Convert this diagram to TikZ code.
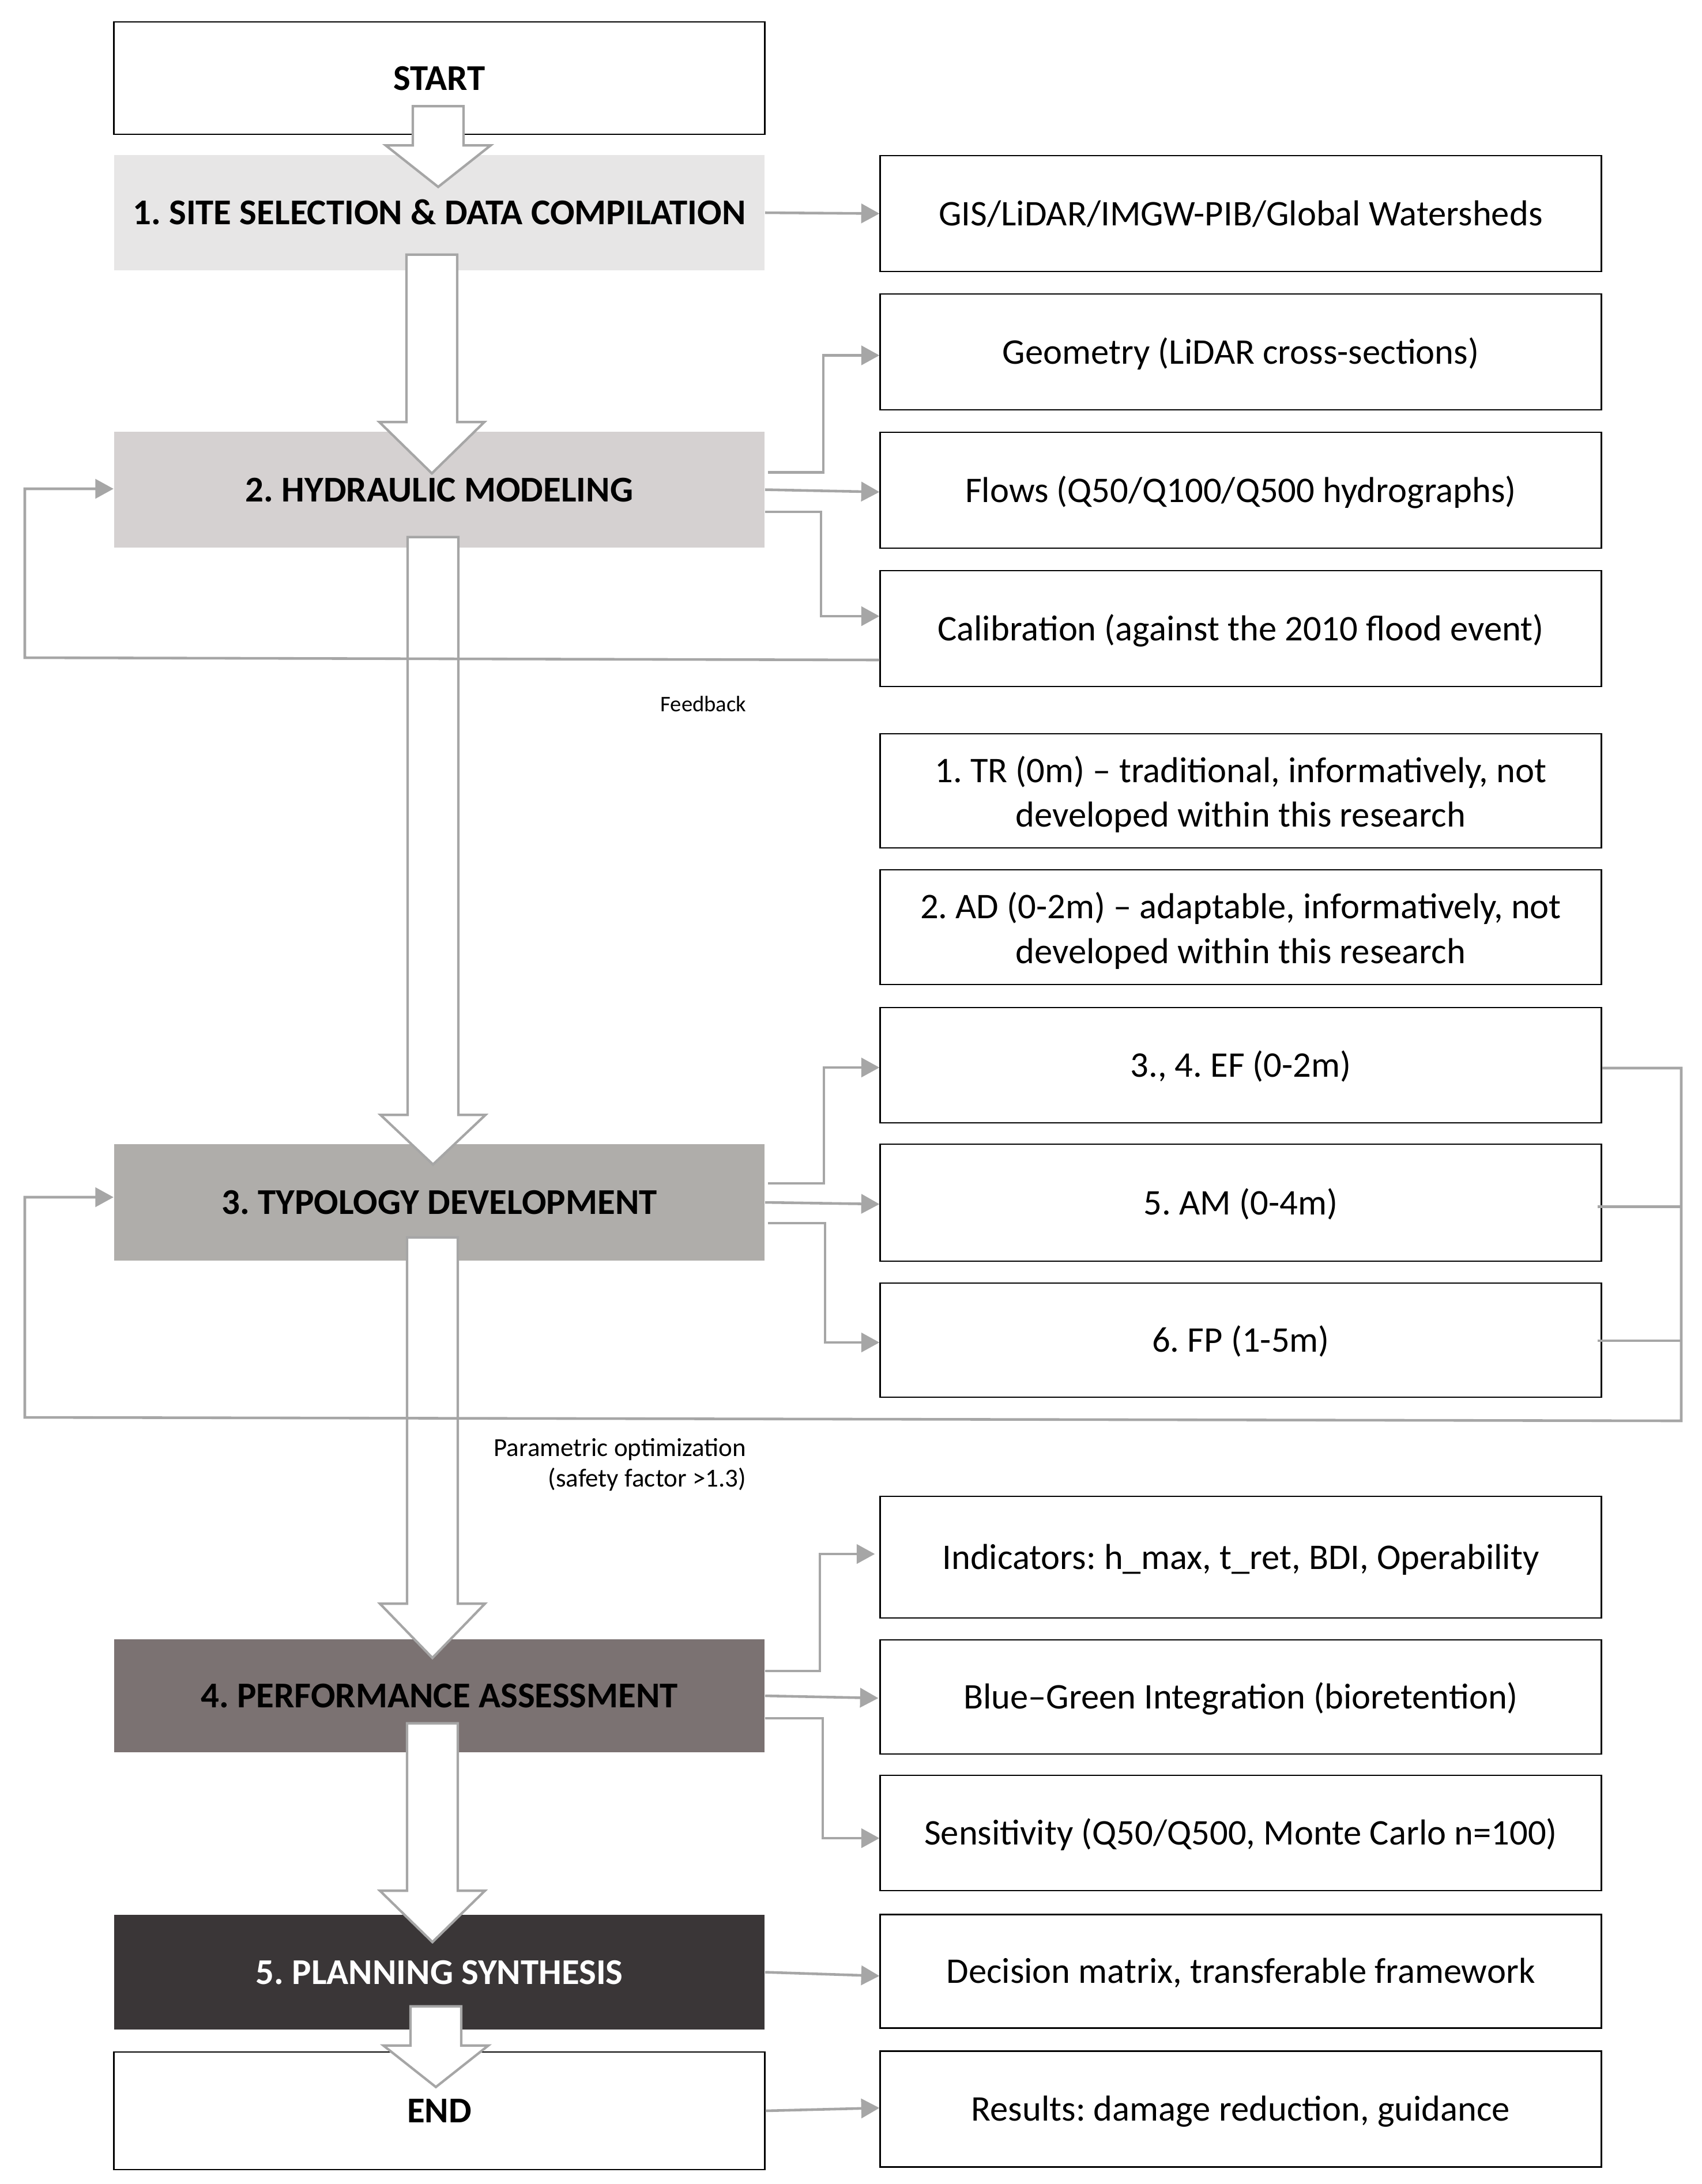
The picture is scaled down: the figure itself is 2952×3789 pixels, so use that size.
\documentclass[tikz,border=0pt]{standalone}
\usepackage{fontspec}
\setmainfont{Carlito}
\usetikzlibrary{arrows.meta,calc}
\definecolor{conncol}{HTML}{A6A6A6}
\definecolor{bonecol}{HTML}{E7E6E6}
\definecolor{btwocol}{HTML}{D5D1D1}
\definecolor{bthreecol}{HTML}{AFADAA}
\definecolor{bfourcol}{HTML}{7B7272}
\definecolor{bfivecol}{HTML}{3A3637}
\newcommand\bigarrow[3]{\draw[bigarr] let \p1=(#1), \p2=(#2) in
  (\x2-4.4mm,\y1) -- (\x2+4.4mm,\y1) -- (\x2+4.4mm,\y2+#3) -- (\x2+9.1mm,\y2+#3)
  -- (\x2,\y2) -- (\x2-9.1mm,\y2+#3) -- (\x2-4.4mm,\y2+#3) -- cycle;}
\newcommand\twolines[2]{\raisebox{-2.4pt}[\height][\depth]{\begin{tabular}{@{}c@{}}#1\\#2\end{tabular}}}
\frenchspacing
\begin{document}
\frenchspacing
\begin{tikzpicture}[x=0.01cm,y=-0.01cm,
  lbox/.style={rectangle, minimum width=11.28cm, inner sep=0pt,
    font=\fontsize{17.9}{22}\selectfont\bfseries, text height=16pt, text depth=4.1pt},
  rbox/.style={rectangle, draw=black, line width=0.7pt, fill=white,
    minimum width=12.5cm, inner sep=0pt,
    font=\fontsize{17.8}{22}\selectfont},
  oneline/.style={text height=16pt, text depth=4.1pt},
  conn/.style={draw=conncol, line width=1.3pt},
  arrowend/.style={-{Triangle[length=9pt,width=9.5pt]}},
  bigarr/.style={draw=conncol, fill=white, line width=1.2pt, line join=miter}]
\useasboundingbox (0,0) rectangle (2952,3789);

% left column
\node[lbox, draw=black, line width=0.7pt, fill=white, minimum height=1.95cm] (start) at (762,135.5) {START};
\node[lbox, fill=bonecol, minimum height=2cm] (b1) at (762,369) {1. SITE SELECTION \& DATA COMPILATION};
\node[lbox, fill=btwocol, minimum height=2.01cm] (b2) at (762,849.5) {2. HYDRAULIC MODELING};
\node[lbox, fill=bthreecol, minimum height=2.02cm] (b3) at (762,2086) {3. TYPOLOGY DEVELOPMENT};
\node[lbox, fill=bfourcol, minimum height=1.96cm] (b4) at (762,2942) {4. PERFORMANCE ASSESSMENT};
\node[lbox, fill=bfivecol, text=white, minimum height=1.99cm] (b5) at (762,3421.5) {5. PLANNING SYNTHESIS};
\node[lbox, draw=black, line width=0.7pt, fill=white, minimum height=2.04cm] (finish) at (762,3662) {END};

% right column
\node[rbox, oneline, minimum height=2.01cm] (gis) at (2152,370.5) {GIS/LiDAR/IMGW-PIB/Global Watersheds};
\node[rbox, oneline, minimum height=2.01cm] (geo) at (2152,610.5) {Geometry (LiDAR cross-sections)};
\node[rbox, oneline, minimum height=2.01cm] (flow) at (2152,850.5) {Flows (Q50/Q100/Q500 hydrographs)};
\node[rbox, oneline, minimum height=2.01cm] (cal) at (2152,1090.5) {Calibration (against the 2010 flood event)};
\node[rbox, minimum height=1.98cm] (tr) at (2152,1372) {\twolines{1. TR (0m) – traditional, informatively, not}{developed within this research}};
\node[rbox, minimum height=1.99cm] (ad) at (2152,1608.5) {\twolines{2. AD (0-2m) – adaptable, informatively, not}{developed within this research}};
\node[rbox, oneline, minimum height=2.0cm] (ef) at (2152,1848) {3., 4. EF (0-2m)};
\node[rbox, oneline, minimum height=2.03cm] (am) at (2152,2086.5) {5. AM (0-4m)};
\node[rbox, oneline, minimum height=1.98cm] (fp) at (2152,2325) {6. FP (1-5m)};
\node[rbox, oneline, minimum height=2.11cm] (ind) at (2152,2701.5) {Indicators: h\_max, t\_ret, BDI, Operability};
\node[rbox, oneline, minimum height=1.98cm] (bg) at (2152,2944) {Blue–Green Integration (bioretention)};
\node[rbox, oneline, minimum height=2.0cm] (sens) at (2152,3180) {Sensitivity (Q50/Q500, Monte Carlo n=100)};
\node[rbox, oneline, minimum height=1.97cm] (dec) at (2152,3420) {Decision matrix, transferable framework};
\node[rbox, oneline, minimum height=2.01cm] (res) at (2152,3659) {Results: damage reduction, guidance};

% block arrows
\bigarrow{$(start.south)+(-2,-50)$}{$(b1.north)+(-2,56)$}{7.2mm}
\bigarrow{$(b1.south)+(-13,-28)$}{$(b2.north)+(-13,73)$}{8.9mm}
\bigarrow{$(b2.south)+(-11,-19)$}{$(b3.north)+(-11,36)$}{8.6mm}
\bigarrow{$(b3.south)+(-12,-41)$}{$(b4.north)+(-12,33)$}{9.4mm}
\bigarrow{$(b4.south)+(-12,-51)$}{$(b5.north)+(-12,48)$}{8.9mm}
\bigarrow{$(b5.south)+(-6,-41)$}{$(finish.north)+(-6,62)$}{7.2mm}

% connectors to the right column
\draw[conn, arrowend] (b1.east) -- (gis.west);
\draw[conn, arrowend] ($(b2.east)+(5,-30)$) -- ($(b2.east)+(101,-30)$) |- ($(geo.west)+(0,6)$);
\draw[conn, arrowend] (b2.east) -- ($(flow.west)+(0,3)$);
\draw[conn, arrowend] ($(b2.east)+(0,38.5)$) -- ($(b2.east)+(97,38.5)$) |- ($(cal.west)+(0,-21.5)$);
\draw[conn, arrowend] ($(b3.east)+(5,-33)$) -- ($(b3.east)+(102,-33)$) |- ($(ef.west)+(0,4)$);
\draw[conn, arrowend] (b3.east) -- ($(am.west)+(0,2.5)$);
\draw[conn, arrowend] ($(b3.east)+(5,36)$) -- ($(b3.east)+(104,36)$) |- ($(fp.west)+(0,4)$);
\draw[conn, arrowend] ($(b4.east)+(0,-43)$) -- ($(b4.east)+(95,-43)$) |- ($(ind.west)+(-8,-5.5)$);
\draw[conn, arrowend] (b4.east) -- ($(bg.west)+(-2,2)$);
\draw[conn, arrowend] ($(b4.east)+(0,39)$) -- ($(b4.east)+(100,39)$) |- ($(sens.west)+(0,9)$);
\draw[conn, arrowend] (b5.east) -- ($(dec.west)+(0,8)$);
\draw[conn, arrowend] (finish.east) -- ($(res.west)+(0,-2)$);

% feedback loops
\coordinate (fbA) at (43,1141);
\draw[conn, arrowend] ($(cal.west)+(0,54.5)$) -- (fbA) |- ($(b2.west)+(0,-1.5)$);
\coordinate (fbR) at (2916,2465);
\coordinate (fbL) at (43,2459);
\draw[conn, arrowend] ($(ef.east)+(0,5)$) -| (fbR) -- (fbL) |- ($(b3.west)+(0,-9)$);
\draw[conn] ($(am.east)+(-8,7)$) -- ($(am.east -| fbR)+(0,7)$);
\draw[conn] ($(fp.east)+(-8,1)$) -- ($(fp.east -| fbR)+(0,1)$);

% labels
\node[font=\fontsize{11}{13}\selectfont] (fblabel) at (1220,1221) {Feedback};
\node[font=\fontsize{12.8}{15}\selectfont, align=right, anchor=east, inner sep=0pt] (optlabel) at (1295,2541) {Parametric optimization\\(safety factor >1.3)};
\end{tikzpicture}
\end{document}
